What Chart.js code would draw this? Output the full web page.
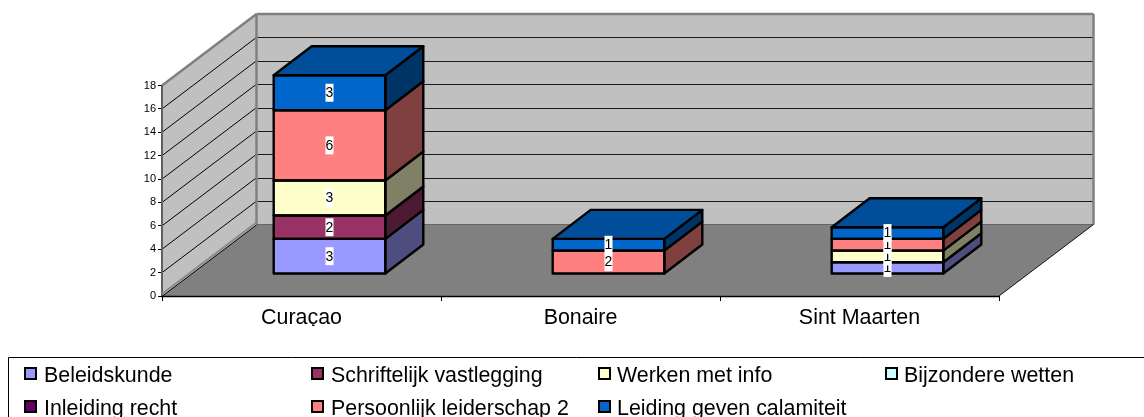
<!DOCTYPE html>
<html><head><meta charset="utf-8">
<style>html,body{margin:0;padding:0;background:#fff;overflow:hidden}canvas{display:block}</style>
<script src="https://cdn.jsdelivr.net/npm/chart.js@4/dist/chart.umd.min.js"></script>
</head><body><canvas id="c" width="1144" height="417"></canvas>
<script>
const categories = ['Curaçao','Bonaire','Sint Maarten'];
const seriesNames = ['Beleidskunde','Schriftelijk vastlegging','Werken met info','Bijzondere wetten','Inleiding recht','Persoonlijk leiderschap 2','Leiding geven calamiteit'];
const beleidskunde = [3,0,1];
const schriftelijk = [2,0,0];
const werken = [3,0,1];
const bijzondere = [0,0,0];
const inleiding = [0,0,0];
const persoonlijk = [6,2,1];
const leiding = [3,1,1];
const seriesValues = [beleidskunde,schriftelijk,werken,bijzondere,inleiding,persoonlijk,leiding];
const frontColors = ['#9999FF','#993366','#FFFFCC','#CCFFFF','#660066','#FF8080','#0066CC'];
const sideColors = ['#4D4D80','#4D1A33','#808066','#668080','#330033','#804040','#003366'];
const topColor = '#004D99';
const yTicks = [0,2,4,6,8,10,12,14,16,18];
const FONT = '"Liberation Sans", Arial, sans-serif';
const WALL = {dx:94.5, dy:-71.5};
const BAR = {ox:28, oy:-22, dx:38, dy:-29};
const legendCols = [[25,44],[312,331],[599,617],[886,904]];
const legendRows = [[368,382],[401,415]];
const legendOrder = [[0,0],[1,0],[2,0],[3,0],[0,1],[1,1],[2,1]];

function poly(ctx,pts,fill,stroke,lw){
  ctx.beginPath();pts.forEach((p,i)=>i?ctx.lineTo(p[0],p[1]):ctx.moveTo(p[0],p[1]));ctx.closePath();
  if(fill){ctx.fillStyle=fill;ctx.fill();}
  if(stroke){ctx.strokeStyle=stroke;ctx.lineWidth=lw;ctx.lineJoin='round';ctx.stroke();}
}
function line(ctx,x1,y1,x2,y2,c,w){ctx.beginPath();ctx.moveTo(x1,y1);ctx.lineTo(x2,y2);ctx.strokeStyle=c;ctx.lineWidth=w;ctx.stroke();}

const scene3d = {
  id:'scene3d',
  beforeDatasetsDraw(chart){
    const {ctx,scales:{x,y}}=chart;
    const L=x.left,R=x.right,B=y.getPixelForValue(0),T=y.getPixelForValue(18);
    const {dx,dy}=WALL;
    ctx.save();
    poly(ctx,[[L,B],[L+dx,B+dy],[R+dx,B+dy],[R,B]],'#808080');
    poly(ctx,[[L,T],[L+dx,T+dy],[L+dx,B+dy],[L,B]],'#C0C0C0');
    poly(ctx,[[L+dx,T+dy],[R+dx,T+dy],[R+dx,B+dy],[L+dx,B+dy]],'#C0C0C0');
    yTicks.forEach(v=>{
      if(v===0||v===18)return;
      const p=y.getPixelForValue(v);
      line(ctx,L,p,L+dx,p+dy,'#000',1);
      line(ctx,L+dx,Math.round(p+dy)+.5,R+dx,Math.round(p+dy)+.5,'#1a1a1a',1);
    });
    line(ctx,L,T,L+dx,T+dy,'#808080',2.5);
    line(ctx,L+dx,T+dy,R+dx,T+dy,'#808080',2.5);
    line(ctx,L+dx,T+dy,L+dx,B+dy,'#808080',2.5);
    line(ctx,R+dx,T+dy,R+dx,B+dy,'#808080',2.5);
    line(ctx,L+dx,B+dy,R+dx,B+dy,'#666',1);
    line(ctx,L,T,L,B,'#606060',2);
    line(ctx,L,B-2,L+dx,B+dy-2,'#8a8a8a',2);
    line(ctx,L+.5,B,L+dx,B+dy+.5,'#000',1);
    line(ctx,R,B,R+dx,B+dy,'#111',1);
    line(ctx,L-.5,B+.5,R,B+.5,'#000',1.5);
    ctx.restore();
    ctx.save();
    ctx.translate(BAR.ox,BAR.oy);
  },
  afterDatasetsDraw(chart){
    const {ctx}=chart;
    const {dx,dy}=BAR;
    const W=2.4;
    categories.forEach((_,ci)=>{
      let top=null;
      chart.data.datasets.forEach((ds,di)=>{
        if(!ds.data[ci])return;
        const el=chart.getDatasetMeta(di).data[ci];
        const l=el.x-el.width/2,r=el.x+el.width/2,t=el.y,b=el.base;
        poly(ctx,[[r,b],[r+dx,b+dy],[r+dx,t+dy],[r,t]],sideColors[di],'#000',W);
        ctx.strokeStyle='#000';ctx.lineWidth=W;ctx.lineJoin='round';ctx.strokeRect(l,t,r-l,b-t);
        top={l,r,t};
      });
      if(top)poly(ctx,[[top.l,top.t],[top.l+dx,top.t+dy],[top.r+dx,top.t+dy],[top.r,top.t]],topColor,'#000',W);
    });
    ctx.font='14px '+FONT;ctx.textAlign='center';ctx.textBaseline='middle';
    chart.data.datasets.forEach((ds,di)=>{
      ds.data.forEach((v,ci)=>{
        if(!v)return;
        const el=chart.getDatasetMeta(di).data[ci];
        const cy=(el.y+el.base)/2;
        ctx.fillStyle='#fff';ctx.fillRect(el.x-4,cy-9,8,18);
        ctx.fillStyle='#000';ctx.fillText(String(v),el.x,cy+.5);
      });
    });
    ctx.restore();
  },
  afterDraw(chart){
    const {ctx}=chart;
    ctx.save();
    line(ctx,8.5,357.5,1144,357.5,'#000',1);
    line(ctx,8.5,357.5,8.5,417,'#000',1);
    ctx.font='21.4px '+FONT;ctx.textAlign='left';ctx.textBaseline='alphabetic';
    seriesNames.forEach((name,i)=>{
      const [c,r]=legendOrder[i];
      const sx=legendCols[c][0],tx=legendCols[c][1],sy=legendRows[r][0],by=legendRows[r][1];
      ctx.fillStyle=frontColors[i];ctx.fillRect(sx,sy,11,11);
      ctx.strokeStyle='#000';ctx.lineWidth=2;ctx.strokeRect(sx,sy,11,11);
      ctx.fillStyle='#000';ctx.fillText(name,tx,by);
    });
    ctx.restore();
  }
};

new Chart(document.getElementById('c'),{
  type:'bar',
  data:{labels:categories,datasets:seriesNames.map((n,i)=>({
    label:n,data:seriesValues[i],backgroundColor:frontColors[i],borderWidth:0,clip:false,
    categoryPercentage:0.4,barPercentage:1
  }))},
  options:{
    responsive:false,animation:false,
    layout:{padding:{left:132,right:145,top:85.5,bottom:91}},
    plugins:{legend:{display:false},tooltip:{enabled:false}},
    scales:{
      x:{stacked:true,afterFit:s=>{s.height=30;},
        grid:{display:true,drawOnChartArea:false,offset:true,tickLength:5,color:'#000',tickWidth:1},
        border:{display:false},
        ticks:{color:'#000',font:{family:FONT,size:21.4},padding:4.6,maxRotation:0}},
      y:{stacked:true,min:0,max:18,afterFit:s=>{s.width=30;},
        afterBuildTicks:s=>{s.ticks=yTicks.map(v=>({value:v}));},
        grid:{display:true,drawOnChartArea:false,tickLength:4,color:'#000',tickWidth:1},
        border:{display:false},
        ticks:{color:'#000',font:{family:FONT,size:11},padding:2}}
    }
  },
  plugins:[scene3d]
});
</script></body></html>
